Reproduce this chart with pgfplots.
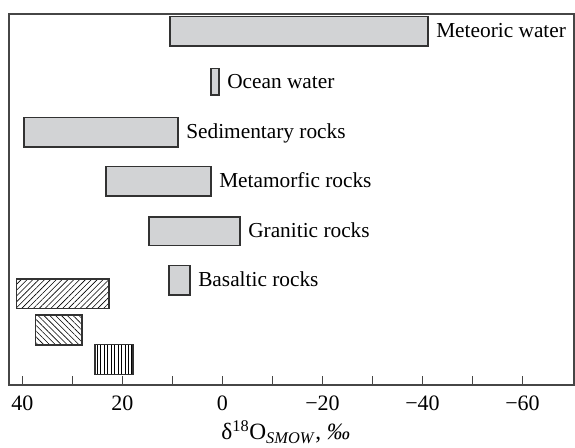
\documentclass[border=0pt]{standalone}
\usepackage{fontspec}
\setmainfont{Liberation Serif}
\usepackage{pgfplots}
\pgfplotsset{compat=1.18}
\usetikzlibrary{patterns.meta}
\definecolor{barfill}{RGB}{210,211,213}
\definecolor{frame}{RGB}{70,70,70}
\definecolor{edge}{RGB}{50,50,50}
\tikzset{
  bar/.style={draw=edge, line width=0.9pt, fill=barfill},
  hatch/.style={draw=edge, line width=0.9pt, pattern={Lines[angle=#1,distance=3.1pt,line width=0.45pt]}},
  lab/.style={anchor=base west, inner sep=0pt, xshift=6pt, yshift=-5pt},
}
\begin{document}
\fontsize{16}{19}\selectfont
\begin{tikzpicture}
\begin{axis}[
  at={(0,0)}, anchor=south west,
  scale only axis, width=423.75pt, height=278.25pt,
  x dir=reverse, xmin=-70.3, xmax=42.7,
  ymin=0, ymax=371,
  axis line style={frame, line width=0.8pt},
  xtick={40,20,0,-20,-40,-60},
  xticklabels={40,20,0,−20,−40,−60},
  minor xtick={30,10,-10,-30,-50},
  ytick=\empty,
  tick pos=bottom, tick align=inside,
  major tick length=6.75pt, minor tick length=6.75pt,
  every tick/.style={frame, line width=0.8pt},
  xticklabel style={anchor=base, yshift=-19.3pt, font=\fontsize{16.5}{19}\selectfont},
  xlabel={δ\textsuperscript{18}O\textsubscript{\textit{SMOW}}, \textit{‰}},
  xlabel style={at={(axis description cs:0.49,0)}, anchor=base, yshift=-41pt,
    font=\fontsize{17.5}{20}\selectfont},
  clip=false,
]
% ranges of delta 18O, one rectangle each: (x1,y1) (x2,y1) (x2,y2) (x1,y2)
\addplot[bar] coordinates {(10.5,339) (-41.1,339) (-41.1,368.3) (10.5,368.3)} -- cycle;
\addplot[bar] coordinates {(2.3,290) (0.7,290) (0.7,316.7) (2.3,316.7)} -- cycle;
\addplot[bar] coordinates {(39.7,238) (8.9,238) (8.9,267.3) (39.7,267.3)} -- cycle;
\addplot[bar] coordinates {(23.3,189) (2.3,189) (2.3,218.3) (23.3,218.3)} -- cycle;
\addplot[bar] coordinates {(14.7,139.3) (-3.5,139.3) (-3.5,168) (14.7,168)} -- cycle;
\addplot[bar] coordinates {(10.7,90) (6.5,90) (6.5,119.3) (10.7,119.3)} -- cycle;
\addplot[hatch=45] coordinates {(41.2,76.7) (22.7,76.7) (22.7,106) (41.2,106)} -- cycle;
\addplot[hatch=-45] coordinates {(37.4,40) (28.1,40) (28.1,70) (37.4,70)} -- cycle;
\addplot[draw=edge, line width=0.9pt, pattern={Lines[angle=90,distance=2.6pt,line width=0.45pt]}]
  coordinates {(25.5,10.7) (17.9,10.7) (17.9,40.7) (25.5,40.7)} -- cycle;

\node[lab] at (axis cs:-41.1,353.7) {Meteoric water};
\node[lab] at (axis cs:0.7,303.3) {Ocean water};
\node[lab] at (axis cs:8.9,252.7) {Sedimentary rocks};
\node[lab] at (axis cs:2.3,203.7) {Metamorfic rocks};
\node[lab] at (axis cs:-3.5,153.7) {Granitic rocks};
\node[lab] at (axis cs:6.5,104.7) {Basaltic rocks};
\end{axis}
\pgfresetboundingbox
\path (-6.75pt,-46.5pt) rectangle (424.5pt,288.75pt);
\end{tikzpicture}
\end{document}
